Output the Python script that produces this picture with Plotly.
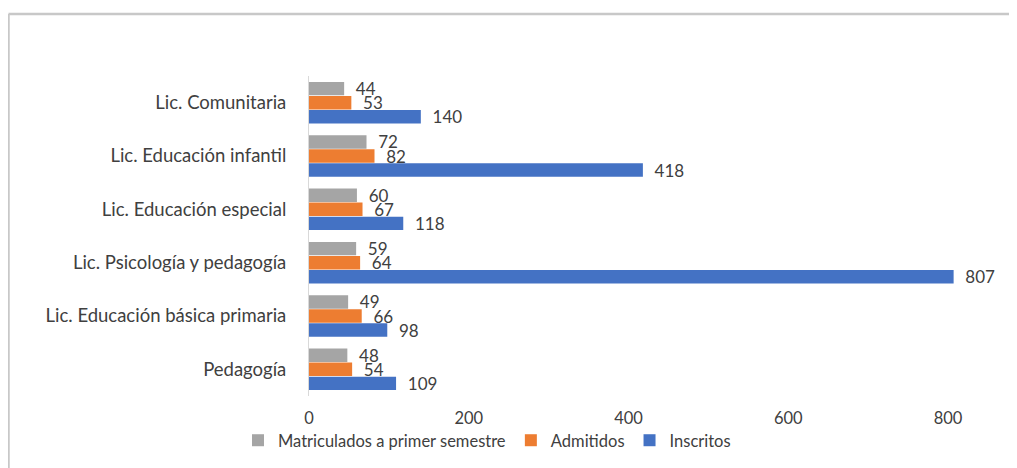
import plotly.graph_objects as go

categories = ["Pedagogía", "Lic. Educación básica primaria", "Lic. Psicología y pedagogía",
              "Lic. Educación especial", "Lic. Educación infantil", "Lic. Comunitaria"]
inscritos = [109, 98, 807, 118, 418, 140]
admitidos = [54, 66, 64, 67, 82, 53]
matriculados = [48, 49, 59, 60, 72, 44]
x_ticks = [0, 200, 400, 600, 800]

FONT = "Lato"
TXT = "#404040"

OFF = 8  # browser body margin
W, H = 1017 - OFF, 468 - OFF
# plot area in screen pixels
SL, SR, ST, SB = 309, 964, 76, 396
ML, MR, MT, MB = SL - OFF, W - (SR - OFF), ST - OFF, H - (SB - OFF)
PW, PH = W - ML - MR, H - MT - MB

fig = go.Figure()
series = [("Inscritos", inscritos, "#4472C4"),
          ("Admitidos", admitidos, "#ED7D31"),
          ("Matriculados a primer semestre", matriculados, "#A5A5A5")]
for name, vals, col in series:
    fig.add_trace(go.Bar(
        y=categories, x=vals, name=name, orientation="h",
        marker=dict(color=col, line=dict(width=0)),
        text=["\u00a0\u00a0" + str(v) for v in vals], textposition="outside",
        textfont=dict(family=FONT, size=17, color=TXT),
        constraintext="none", cliponaxis=False,
    ))

def px_x(sx):
    return (sx - SL) / PW

def px_y(sy):
    return (SB - sy) / PH

fig.update_layout(
    width=W, height=H,
    margin=dict(l=ML, r=MR, t=MT, b=MB, pad=0, autoexpand=False),
    barmode="group", bargap=0.21, bargroupgap=0.04,
    paper_bgcolor="white", plot_bgcolor="white",
    font=dict(family=FONT, size=16.5, color=TXT),
    showlegend=True,
    legend=dict(orientation="h", traceorder="reversed",
                xref="container", yref="container",
                x=(238 - OFF) / W, xanchor="left",
                y=1 - (423 - OFF) / H, yanchor="top",
                font=dict(family=FONT, size=16.5, color=TXT),
                itemwidth=30, tracegroupgap=0, bgcolor="rgba(0,0,0,0)"),
    xaxis=dict(range=[0, 820], tickvals=x_ticks, showgrid=False, zeroline=False,
               showline=False, ticks="", tickfont=dict(family=FONT, size=16.5, color=TXT),
               ticklabelstandoff=10),
    yaxis=dict(showgrid=False, zeroline=False, showline=True, linecolor="#D9D9D9",
               linewidth=1, ticks="", tickfont=dict(family=FONT, size=18.5, color=TXT),
               ticklabelstandoff=18),
    shapes=[
        dict(type="line", xref="paper", yref="paper",
             x0=px_x(8.5), x1=px_x(1040), y0=px_y(14), y1=px_y(14),
             line=dict(color="#C8C8C8", width=2.5)),
        dict(type="line", xref="paper", yref="paper",
             x0=px_x(8.5), x1=px_x(8.5), y0=px_y(14), y1=px_y(500),
             line=dict(color="#C8C8C8", width=2.5)),
    ],
)

fig.write_html("out.html")
